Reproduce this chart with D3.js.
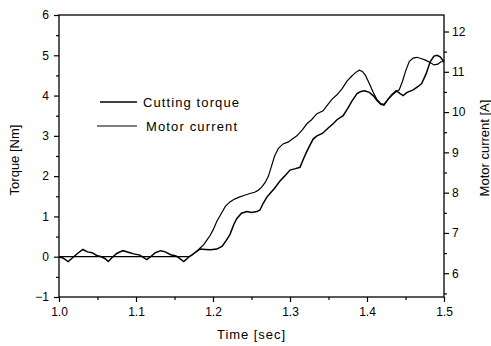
<!DOCTYPE html>
<html><head><meta charset="utf-8">
<script src="https://cdn.jsdelivr.net/npm/d3@7"></script>
<style>body{margin:0;background:#fff}svg{display:block}text{font-family:"Liberation Sans",Arial,sans-serif;fill:#000}</style>
</head><body><svg id="c" width="491" height="346"></svg>
<script>
// Cutting torque (Nm), left axis
const torqueTime = [1.000,1.005,1.012,1.018,1.024,1.031,1.037,1.043,1.049,1.055,1.060,1.064,1.069,1.075,1.083,1.090,1.097,1.105,1.110,1.114,1.119,1.125,1.132,1.138,1.145,1.152,1.157,1.162,1.168,1.175,1.183,1.190,1.197,1.205,1.212,1.217,1.222,1.227,1.231,1.237,1.244,1.250,1.257,1.261,1.265,1.270,1.274,1.280,1.287,1.293,1.300,1.306,1.313,1.318,1.322,1.330,1.335,1.342,1.350,1.356,1.361,1.369,1.375,1.380,1.387,1.392,1.397,1.403,1.408,1.413,1.418,1.422,1.427,1.432,1.438,1.443,1.447,1.452,1.460,1.466,1.471,1.477,1.482,1.487,1.491,1.495,1.500];
const torqueValue = [0.00,-0.03,-0.12,-0.02,0.08,0.18,0.12,0.10,0.03,0.00,-0.05,-0.12,-0.02,0.08,0.15,0.11,0.07,0.04,-0.02,-0.07,0.00,0.10,0.15,0.12,0.05,0.02,-0.05,-0.12,-0.02,0.08,0.19,0.18,0.17,0.19,0.26,0.40,0.55,0.80,0.95,1.08,1.12,1.10,1.12,1.16,1.32,1.48,1.57,1.70,1.88,2.00,2.15,2.18,2.22,2.45,2.62,2.92,3.00,3.06,3.20,3.30,3.40,3.50,3.68,3.85,4.05,4.10,4.12,4.08,4.00,3.88,3.78,3.76,3.90,4.02,4.12,4.05,4.00,4.08,4.14,4.22,4.30,4.55,4.84,4.98,5.00,4.96,4.84];
// Motor current (A), right axis
const currentTime = [1.000,1.100,1.168,1.172,1.178,1.183,1.188,1.192,1.196,1.200,1.205,1.211,1.216,1.222,1.228,1.234,1.240,1.248,1.254,1.258,1.263,1.268,1.272,1.276,1.280,1.285,1.291,1.298,1.303,1.309,1.316,1.322,1.328,1.335,1.343,1.348,1.355,1.361,1.368,1.374,1.380,1.385,1.390,1.394,1.398,1.403,1.408,1.413,1.418,1.422,1.427,1.432,1.437,1.442,1.446,1.450,1.455,1.460,1.465,1.470,1.476,1.482,1.487,1.492,1.496,1.500];
const currentValue = [6.41,6.41,6.41,6.44,6.53,6.62,6.71,6.82,6.93,7.07,7.29,7.49,7.66,7.77,7.84,7.89,7.93,7.98,8.01,8.05,8.13,8.26,8.41,8.66,8.91,9.10,9.21,9.26,9.33,9.41,9.56,9.71,9.81,9.96,10.03,10.16,10.33,10.43,10.59,10.77,10.89,10.98,11.04,11.01,10.91,10.71,10.49,10.31,10.21,10.19,10.31,10.41,10.49,10.56,10.76,11.01,11.26,11.34,11.36,11.33,11.29,11.23,11.17,11.19,11.25,11.25];

const xTicks = [1.0,1.1,1.2,1.3,1.4,1.5];
const leftTicks = [-1,0,1,2,3,4,5,6];
const rightTicks = [6,7,8,9,10,11,12];
const legendLabels = ["Cutting torque","Motor current"];

const svg = d3.select("#c");
const L=59,R=444,T=15,B=297;
const x = d3.scaleLinear().domain([1.0,1.5]).range([L,R]);
const yL = d3.scaleLinear().domain([-1,6]).range([B,T]);
const yR = d3.scaleLinear().domain([5.41,12.41]).range([B,T]);

function styleAxis(g){
  g.select(".domain").remove();
  g.selectAll("line").attr("stroke","#000").attr("stroke-width",1.2);
  g.selectAll("text").style("font-size","12px").attr("fill","#000");
}
// minor ticks
svg.append("g").attr("transform",`translate(0,${B})`).call(d3.axisBottom(x).tickValues(d3.range(1.05,1.5,0.1)).tickSize(3).tickFormat("")).call(styleAxis);
svg.append("g").attr("transform",`translate(${L},0)`).call(d3.axisLeft(yL).tickValues(d3.range(-0.5,6,1)).tickSize(3).tickFormat("")).call(styleAxis);
svg.append("g").attr("transform",`translate(${R},0)`).call(d3.axisRight(yR).tickValues(d3.range(5.5,12.5,1)).tickSize(3).tickFormat("")).call(styleAxis);
// major
svg.append("g").attr("transform",`translate(0,${B})`).call(d3.axisBottom(x).tickValues(xTicks).tickSize(5).tickPadding(5).tickFormat(d3.format(".1f"))).call(styleAxis);
svg.append("g").attr("transform",`translate(${L},0)`).call(d3.axisLeft(yL).tickValues(leftTicks).tickSize(5).tickPadding(5).tickFormat(d3.format("d"))).call(styleAxis);
svg.append("g").attr("transform",`translate(${R},0)`).call(d3.axisRight(yR).tickValues(rightTicks).tickSize(5).tickPadding(3).tickFormat(d3.format("d"))).call(styleAxis);

svg.append("rect").attr("x",L).attr("y",T).attr("width",R-L).attr("height",B-T).attr("fill","none").attr("stroke","#000").attr("stroke-width",1.3);

const lineT = d3.line().x((d,i)=>x(torqueTime[i])).y(d=>yL(d));
const lineC = d3.line().x((d,i)=>x(currentTime[i])).y(d=>yR(d));
svg.append("path").attr("d",lineC(currentValue)).attr("fill","none").attr("stroke","#000").attr("stroke-width",1.2);
svg.append("path").attr("d",lineT(torqueValue)).attr("fill","none").attr("stroke","#000").attr("stroke-width",1.5);

// legend
const leg = [{x1:100,x2:137,y:102,tx:143,w:96,sw:1.5},{x1:97,x2:137,y:126,tx:146,w:91,sw:1.2}];
leg.forEach((l,i)=>{
  svg.append("line").attr("x1",l.x1).attr("x2",l.x2).attr("y1",l.y).attr("y2",l.y).attr("stroke","#000").attr("stroke-width",l.sw);
  svg.append("text").attr("x",l.tx).attr("y",l.y+5).attr("textLength",l.w).attr("lengthAdjust","spacing").style("font-size","13px").text(legendLabels[i]);
});

svg.append("text").attr("x",251).attr("y",339).attr("text-anchor","middle").attr("textLength",68).attr("lengthAdjust","spacing").style("font-size","13px").text("Time [sec]");
svg.append("text").attr("transform","translate(19,160) rotate(-90)").attr("text-anchor","middle").style("font-size","13px").text("Torque [Nm]");
svg.append("text").attr("transform","translate(489,148) rotate(-90)").attr("text-anchor","middle").style("font-size","13px").text("Motor current [A]");
</script></body></html>
